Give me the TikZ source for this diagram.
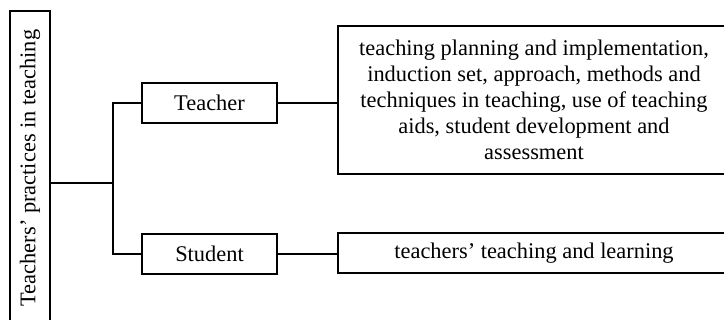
\documentclass[tikz,border=0pt]{standalone}
\usepackage{fontspec}
\setmainfont{Liberation Serif}
\begin{document}
\begin{tikzpicture}[x=1pt,y=-1pt,line width=1.4pt,
  box/.style={draw,rectangle,inner sep=0pt,align=center,font=\fontsize{22.4}{26}\selectfont}]
\useasboundingbox (0,0) rectangle (724,320);
\node[box,rotate=90,minimum width=314,minimum height=40] (root) at (30,168) {Teachers’ practices in teaching};
\node[box,minimum width=135,minimum height=40] (teacher) at (209.5,103) {Teacher};
\node[box,minimum width=135,minimum height=40] (student) at (209.5,254) {Student};
\node[box,minimum width=392,minimum height=148] (details) at (534,100) {teaching planning and implementation,\\induction set, approach, methods and\\techniques in teaching, use of teaching\\aids, student development and\\assessment};
\node[box,minimum width=392,minimum height=40] (outcome) at (534,253) {teachers’ teaching and learning};
\coordinate (fork) at (113,183);
\draw (root.south |- fork) -- (fork);
\draw (teacher.west) -| (fork) |- (student.west);
\draw (teacher.east) -- (details.west |- teacher.east);
\draw (student.east) -- (outcome.west |- student.east);
\end{tikzpicture}
\end{document}
